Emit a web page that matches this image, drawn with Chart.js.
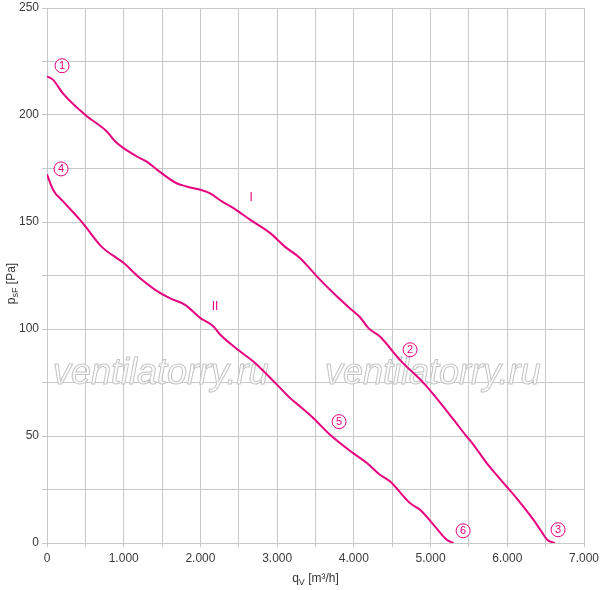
<!DOCTYPE html>
<html>
<head>
<meta charset="utf-8">
<script src="https://cdn.jsdelivr.net/npm/chart.js@4/dist/chart.umd.min.js"></script>
<style>
  html, body { margin: 0; padding: 0; background: #fff; }
  #wrap { width: 600px; height: 590px; }
</style>
</head>
<body>
<div id="wrap"><canvas id="fanChart" width="600" height="590"></canvas></div>
<script>
// curve I
var flowI = [0, 80, 210, 500, 780, 890, 1170, 1300, 1450, 1690, 1820, 2120, 2280, 2430, 2650, 2910, 3100, 3300, 3520, 3780, 3970, 4080, 4190, 4340, 4600, 4910, 5040, 5300, 5470, 5560, 5730, 5990, 6120, 6340, 6430, 6520, 6620];
var pressI = [218, 216.4, 210, 200, 192.3, 187.6, 180.6, 178.2, 174, 168.1, 166.6, 163.5, 159.6, 156.5, 151, 144.8, 138.5, 133.1, 124.5, 115.2, 109, 105.5, 100.4, 96.5, 85.6, 74.7, 69.3, 57.6, 49.8, 45.9, 37.4, 26.4, 21, 10.9, 6.2, 1.5, 0];
// curve II
var flowII = [0, 80, 210, 430, 500, 710, 1000, 1210, 1410, 1600, 1800, 2000, 2170, 2260, 2490, 2690, 3000, 3170, 3300, 3470, 3690, 3990, 4170, 4340, 4470, 4730, 4860, 5040, 5210, 5300];
var pressII = [172.2, 165, 159.6, 151, 147.9, 138.5, 130.8, 123.8, 118.3, 114.4, 111.3, 105.1, 101.2, 97.3, 90.3, 84.8, 73.9, 67.7, 63.8, 58.4, 50.6, 42, 37.4, 31.9, 28.8, 18.7, 15.6, 8.5, 1.5, 0];

// circled point markers
var markText = ['1', '2', '3', '4', '5', '6'];
var markFlow = [196, 4733, 6662, 183, 3807, 5424];
var markPress = [223, 90.3, 6.2, 174.8, 56.7, 5.7];

// curve names
var curveNames = ['I', 'II'];
var nameFlow = [2660, 2190];
var namePress = [161.3, 110.5];

var pink = '#e6007e';

function pairs(xs, ys) {
    return xs.map(function (x, i) { return { x: x, y: ys[i] }; });
}

function fmtThousands(v) {
    if (v === 0) return '0';
    return (v / 1000).toFixed(3);
}

var drawExtras = {
    id: 'drawExtras',
    beforeDatasetsDraw: function (chart) {
        var ctx = chart.ctx;
        // watermark
        ctx.save();
        ctx.font = 'italic 36px "Liberation Sans", Arial, sans-serif';
        ctx.textBaseline = 'alphabetic';
        ctx.textAlign = 'left';
        ctx.lineWidth = 1;
        ctx.fillStyle = 'rgba(255,255,255,0.85)';
        ctx.strokeStyle = '#c4c4c4';
        [53, 325].forEach(function (px) {
            ctx.fillText('ventilatorry.ru', px, 384);
            ctx.strokeText('ventilatorry.ru', px, 384);
        });
        ctx.restore();
    },
    afterDatasetsDraw: function (chart) {
        var ctx = chart.ctx;
        var xs = chart.scales.x, ys = chart.scales.y;
        ctx.save();
        ctx.textAlign = 'center';
        ctx.textBaseline = 'middle';
        for (var i = 0; i < markText.length; i++) {
            var px = xs.getPixelForValue(markFlow[i]);
            var py = ys.getPixelForValue(markPress[i]);
            ctx.beginPath();
            ctx.arc(px, py, 7, 0, Math.PI * 2);
            ctx.fillStyle = '#fff';
            ctx.fill();
            ctx.lineWidth = 1;
            ctx.strokeStyle = pink;
            ctx.stroke();
            ctx.fillStyle = pink;
            ctx.font = '11px "Liberation Sans", Arial, sans-serif';
            ctx.fillText(markText[i], px, py + 0.5);
        }
        ctx.font = '12px "Liberation Sans", Arial, sans-serif';
        for (var j = 0; j < curveNames.length; j++) {
            ctx.fillStyle = pink;
            ctx.fillText(curveNames[j], xs.getPixelForValue(nameFlow[j]), ys.getPixelForValue(namePress[j]));
        }
        ctx.restore();
    },
    afterDraw: function (chart) {
        var ctx = chart.ctx;
        var area = chart.chartArea;
        ctx.save();
        ctx.fillStyle = '#333';
        ctx.textBaseline = 'alphabetic';
        // x title: q_V [m³/h]
        var big = '12px "Liberation Sans", Arial, sans-serif';
        var small = '9px "Liberation Sans", Arial, sans-serif';
        ctx.font = big;
        var w1 = ctx.measureText('q').width;
        var w3 = ctx.measureText(' [m³/h]').width;
        ctx.font = small;
        var w2 = ctx.measureText('V').width;
        var cx = (area.left + area.right) / 2;
        var sx = cx - (w1 + w2 + w3) / 2;
        var by = 582;
        ctx.textAlign = 'left';
        ctx.font = big;
        ctx.fillText('q', sx, by);
        ctx.font = small;
        ctx.fillText('V', sx + w1, by + 3);
        ctx.font = big;
        ctx.fillText(' [m³/h]', sx + w1 + w2, by);
        // y title: p_sF [Pa]
        ctx.translate(11, (area.top + area.bottom) / 2 + 8);
        ctx.rotate(-Math.PI / 2);
        ctx.font = big;
        var v1 = ctx.measureText('p').width;
        var v3 = ctx.measureText(' [Pa]').width;
        ctx.font = small;
        var v2 = ctx.measureText('sF').width;
        var s = -(v1 + v2 + v3) / 2;
        ctx.font = big;
        ctx.fillText('p', s, 4);
        ctx.font = small;
        ctx.fillText('sF', s + v1, 7);
        ctx.font = big;
        ctx.fillText(' [Pa]', s + v1 + v2, 4);
        ctx.restore();
    }
};

var whiteBg = {
    id: 'whiteBg',
    beforeDraw: function (chart) {
        var ctx = chart.ctx;
        ctx.save();
        ctx.fillStyle = '#fff';
        ctx.fillRect(0, 0, chart.width, chart.height);
        ctx.restore();
    }
};

var ctx = document.getElementById('fanChart').getContext('2d');

var chartConfig = {
    type: 'scatter',
    data: {
        datasets: [{
            label: 'I',
            data: pairs(flowI, pressI),
            showLine: true,
            borderColor: pink,
            borderWidth: 2,
            pointRadius: 0,
            cubicInterpolationMode: 'monotone'
        }, {
            label: 'II',
            data: pairs(flowII, pressII),
            showLine: true,
            borderColor: pink,
            borderWidth: 2,
            pointRadius: 0,
            cubicInterpolationMode: 'monotone'
        }]
    },
    options: {
        responsive: false,
        animation: false,
        events: [],
        layout: { padding: { top: 8, right: 16, left: 0, bottom: 0 } },
        plugins: {
            legend: { display: false },
            tooltip: { enabled: false }
        },
        scales: {
            x: {
                type: 'linear',
                min: 0,
                max: 7000,
                afterFit: function (scale) {
                    scale.height = 47;
                    scale.paddingLeft = 0;
                    scale.paddingRight = 0;
                },
                ticks: {
                    stepSize: 500,
                    autoSkip: false,
                    maxRotation: 0,
                    color: '#3a3a3a',
                    padding: 4,
                    font: { family: '"Liberation Sans", Arial, sans-serif', size: 12 },
                    callback: function (v) { return v % 1000 === 0 ? fmtThousands(v) : ''; }
                },
                grid: { color: '#c8c8c8', lineWidth: 1, tickLength: 4 },
                border: { color: '#c8c8c8' }
            },
            y: {
                type: 'linear',
                min: 0,
                max: 250,
                afterFit: function (scale) {
                    scale.width = 47;
                    scale.paddingTop = 0;
                    scale.paddingBottom = 0;
                },
                ticks: {
                    stepSize: 25,
                    autoSkip: false,
                    color: '#3a3a3a',
                    padding: 3,
                    font: { family: '"Liberation Sans", Arial, sans-serif', size: 12 },
                    callback: function (v) { return v % 50 === 0 ? String(v) : ''; }
                },
                grid: { color: '#c8c8c8', lineWidth: 1, tickLength: 5 },
                border: { color: '#c8c8c8' }
            }
        }
    },
    plugins: [whiteBg, drawExtras]
};

var chartObject = new Chart(ctx, chartConfig);
</script>
</body>
</html>
